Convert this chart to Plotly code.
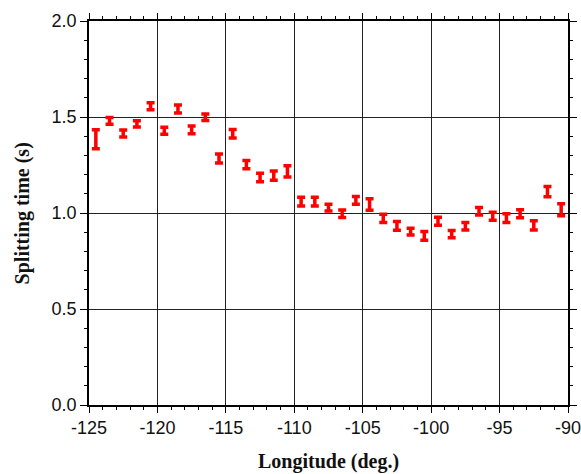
import plotly.graph_objects as go

longitude = [-124.5 + i for i in range(35)]
split_time = [1.384, 1.480, 1.414, 1.464, 1.556, 1.428, 1.542, 1.433, 1.499, 1.284,
              1.413, 1.252, 1.185, 1.195, 1.217, 1.059, 1.059, 1.028, 0.996, 1.066,
              1.044, 0.972, 0.933, 0.903, 0.881, 0.957, 0.890, 0.931, 1.009, 0.983,
              0.973, 0.996, 0.935, 1.111, 1.017]
split_err = [0.049, 0.018, 0.018, 0.016, 0.018, 0.018, 0.021, 0.020, 0.017, 0.023,
             0.022, 0.021, 0.022, 0.024, 0.029, 0.023, 0.023, 0.018, 0.020, 0.020,
             0.030, 0.022, 0.023, 0.018, 0.023, 0.021, 0.019, 0.020, 0.020, 0.021,
             0.023, 0.021, 0.024, 0.027, 0.031]

x_ticks = [-125, -120, -115, -110, -105, -100, -95, -90]
y_ticks = [0.0, 0.5, 1.0, 1.5, 2.0]
y_ticklabels = ["0.0", "0.5", "1.0", "1.5", "2.0"]

fig = go.Figure()
fig.add_trace(go.Scatter(
    x=longitude, y=split_time, mode="markers",
    marker=dict(size=1, color="red", opacity=0),
    error_y=dict(type="data", array=split_err, visible=True,
                 color="red", thickness=3.5, width=4),
    showlegend=False, hoverinfo="x+y",
))

tickfont = dict(family="Liberation Sans, Arial, sans-serif", size=18, color="#111")
titlefont = dict(family="Liberation Serif, Times New Roman, serif", size=20, color="#111")

fig.update_layout(
    width=581, height=474,
    margin=dict(l=89, r=12.5, t=20.7, b=68.7, autoexpand=False),
    plot_bgcolor="white", paper_bgcolor="white",
    xaxis=dict(
        range=[-125, -90], tickvals=x_ticks, ticktext=[str(v) for v in x_ticks],
        showgrid=True, gridcolor="#222", gridwidth=1,
        showline=True, linecolor="black", linewidth=1.6, mirror="ticks",
        ticks="outside", ticklen=6, tickwidth=1, tickcolor="black",
        minor=dict(dtick=1, ticks="outside", ticklen=3, tickcolor="black", showgrid=False),
        tickfont=tickfont, zeroline=False, automargin=False,
        ticklabeloverflow="allow",
    ),
    yaxis=dict(
        range=[0, 2.0], tickvals=y_ticks, ticktext=y_ticklabels,
        showgrid=True, gridcolor="#222", gridwidth=1,
        showline=True, linecolor="black", linewidth=1.6, mirror="ticks",
        ticks="outside", ticklen=7, tickwidth=1, tickcolor="black",
        minor=dict(dtick=0.1, ticks="outside", ticklen=3, tickcolor="black", showgrid=False),
        tickfont=tickfont, zeroline=False, automargin=False,
        ticklabeloverflow="allow",
    ),
    annotations=[
        dict(text="<b>Longitude (deg.)</b>", font=titlefont, showarrow=False,
             xref="paper", yref="paper", x=0.5, y=-0.148, xanchor="center", yanchor="middle"),
        dict(text="<b>Splitting time (s)</b>", font=titlefont, showarrow=False, textangle=-90,
             xref="paper", yref="paper", x=-0.139, y=0.5, xanchor="center", yanchor="middle"),
    ],
)

fig.write_html("out.html")
